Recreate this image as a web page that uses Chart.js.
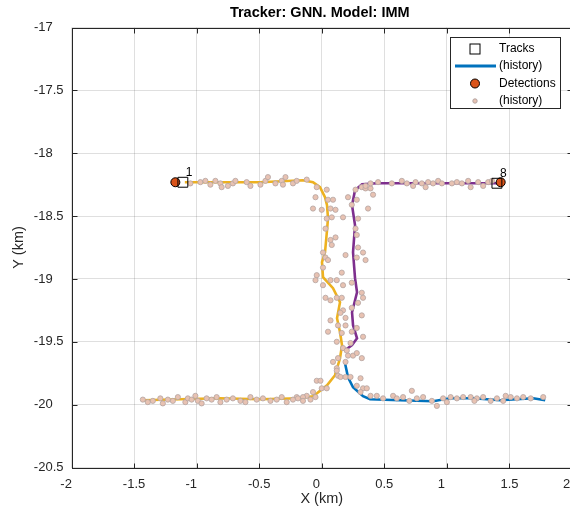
<!DOCTYPE html>
<html><head><meta charset="utf-8">
<script src="https://cdn.jsdelivr.net/npm/chart.js@4.4.0/dist/chart.umd.min.js"></script>
<style>
html,body{margin:0;padding:0;background:#fff;overflow:hidden;width:570px;height:513px;}
#wrap{position:relative;width:580px;height:513px;}
</style></head><body>
<div id="wrap"><canvas id="c" width="580" height="513"></canvas></div>
<script>
const titleText = 'Tracker: GNN. Model: IMM';
const xAxisLabel = 'X (km)';
const yAxisLabel = 'Y (km)';
const xTicks = [-2, -1.5, -1, -0.5, 0, 0.5, 1, 1.5, 2];
const xTickLabels = ['-2', '-1.5', '-1', '-0.5', '0', '0.5', '1', '1.5', '2'];
const yTicks = [-20.5, -20, -19.5, -19, -18.5, -18, -17.5, -17];
const yTickLabels = ['-20.5', '-20', '-19.5', '-19', '-18.5', '-18', '-17.5', '-17'];
const legendLabels = ['Tracks', '(history)', 'Detections', '(history)'];

// Track histories (km)
const track1X = [-1.430,-1.134,-0.814,-0.494,-0.174,-0.070,-0.038,0.042,0.106,0.146,0.162,0.146,0.122,0.146,0.090,0.010,0.002,0.026,0.042,0.050,0.042,0.026,-0.014,-0.070,-0.150,-0.494,-0.814,-1.094];
const track1Y = [-19.965,-19.957,-19.949,-19.957,-19.949,-19.933,-19.909,-19.846,-19.766,-19.631,-19.527,-19.424,-19.313,-19.185,-19.074,-18.986,-18.867,-18.788,-18.613,-18.517,-18.414,-18.350,-18.270,-18.231,-18.215,-18.231,-18.231,-18.231];
const track8X = [0.186,0.242,0.282,0.250,0.242,0.282,0.266,0.250,0.266,0.242,0.266,0.322,0.442,0.810,1.082,1.402,1.426];
const track8Y = [-19.567,-19.527,-19.472,-19.368,-19.265,-19.106,-18.994,-18.788,-18.573,-18.414,-18.294,-18.247,-18.239,-18.239,-18.239,-18.239,-18.239];
const trackOldX = [0.186,0.210,0.250,0.330,0.386,0.626,0.890,1.026,1.210,1.426,1.690,1.786];
const trackOldY = [-19.671,-19.782,-19.862,-19.933,-19.957,-19.965,-19.973,-19.949,-19.949,-19.965,-19.949,-19.965];

// Current tracks and detections
const trackIds = ['1', '8'];
const trackX = [-1.11, 1.40];
const trackY = [-18.231, -18.239];
const detX = [-1.17, 1.43];
const detY = [-18.231, -18.231];

// Detection history (km)
const detHistX = [
 -1.05,-0.97,-0.93,-0.89,-0.85,-0.81,-0.80,-0.75,-0.71,-0.69,-0.60,-0.57,-0.49,-0.45,-0.43,-0.37,-0.32,-0.31,-0.29,-0.23,-0.20,-0.12,
 -0.04,0.04,-0.05,0.05,0.09,-0.07,0.00,0.07,0.11,0.04,0.08,0.03,0.11,0.07,0.08,0.01,0.03,0.05,0.01,-0.04,-0.05,0.01,0.07,0.12,0.16,0.17,0.03,0.07,0.12,0.16,0.17,0.15,0.07,0.13,0.19,0.05,0.16,0.12,0.17,0.21,0.13,0.19,0.12,0.13,-0.04,-0.01,-0.07,-0.12,-0.20,-0.15,0.00,0.04,0.09,0.12,0.15,0.25,
 0.32,0.35,0.39,0.21,0.28,0.24,0.37,0.17,0.29,0.27,0.28,0.29,0.33,0.19,0.28,0.35,0.24,0.32,0.33,0.29,0.24,0.32,0.19,0.28,0.24,0.33,0.23,0.20,0.28,0.32,
 0.27,0.41,0.35,0.39,0.45,0.56,0.64,0.68,0.73,0.75,0.80,0.83,0.85,0.89,0.93,0.96,1.04,1.08,1.12,1.17,1.19,1.25,1.29,1.33,1.36,
 -1.43,-1.39,-1.35,-1.29,-1.27,-1.23,-1.19,-1.15,-1.09,-1.07,-1.04,-1.01,-0.99,-0.96,-0.92,-0.88,-0.84,-0.81,-0.76,-0.71,-0.65,-0.61,-0.57,-0.52,-0.47,-0.41,-0.36,-0.32,-0.28,-0.23,-0.19,-0.15,-0.09,-0.05,
 0.19,0.23,0.31,0.28,0.33,0.36,0.31,0.39,0.44,0.49,0.57,0.60,0.65,0.72,0.76,0.81,0.88,0.92,0.97,1.03,1.08,1.13,1.19,1.24,1.29,1.35,1.40,1.45,1.51,1.56,1.61,1.67,1.77,1.00,1.22,1.47,0.70
];
const detHistY = [
 -18.24,-18.23,-18.22,-18.25,-18.22,-18.24,-18.27,-18.26,-18.24,-18.22,-18.23,-18.26,-18.25,-18.22,-18.19,-18.24,-18.22,-18.25,-18.19,-18.24,-18.22,-18.21,
 -18.27,-18.29,-18.35,-18.37,-18.37,-18.44,-18.45,-18.44,-18.45,-18.52,-18.51,-18.60,-18.67,-18.69,-18.73,-18.79,-18.83,-18.85,-18.91,-18.97,-19.01,-19.05,-19.01,-19.01,-18.95,-19.05,-19.15,-19.17,-19.15,-19.15,-19.25,-19.27,-19.33,-19.37,-19.37,-19.42,-19.43,-19.50,-19.55,-19.61,-19.63,-19.66,-19.71,-19.77,-19.81,-19.81,-19.90,-19.93,-19.94,-19.94,-19.87,-19.87,-19.66,-19.73,-19.78,-19.61,
 -18.27,-18.28,-18.28,-18.35,-18.37,-18.41,-18.44,-18.51,-18.52,-18.60,-18.65,-18.75,-18.79,-18.81,-18.83,-18.85,-19.03,-19.11,-19.15,-19.19,-19.23,-19.29,-19.31,-19.39,-19.42,-19.46,-19.51,-19.57,-19.59,-19.63,
 -18.29,-18.33,-18.26,-18.24,-18.23,-18.24,-18.22,-18.24,-18.26,-18.23,-18.24,-18.27,-18.23,-18.24,-18.22,-18.24,-18.24,-18.23,-18.24,-18.22,-18.27,-18.23,-18.26,-18.23,-18.22,
 -19.96,-19.98,-19.97,-19.95,-19.99,-19.96,-19.97,-19.94,-19.98,-19.95,-19.96,-19.93,-19.97,-19.99,-19.95,-19.96,-19.94,-19.98,-19.96,-19.95,-19.97,-19.98,-19.94,-19.96,-19.95,-19.97,-19.96,-19.94,-19.98,-19.96,-19.95,-19.97,-19.96,-19.94,
 -19.78,-19.78,-19.79,-19.85,-19.87,-19.87,-19.90,-19.93,-19.93,-19.95,-19.93,-19.95,-19.94,-19.89,-19.95,-19.94,-19.97,-20.01,-19.95,-19.94,-19.95,-19.94,-19.94,-19.95,-19.94,-19.97,-19.95,-19.97,-19.94,-19.95,-19.94,-19.95,-19.94,-19.98,-19.97,-19.93,-19.97
];

const COL_Y = '#EDB120', COL_P = '#7E2F8E', COL_B = '#0072BD', COL_DET = '#D95319';
const HIST_FILL = 'rgb(232,194,178)', HIST_EDGE = 'rgb(180,165,162)';
const FONT = "'Liberation Sans', Arial, Helvetica, sans-serif";

const toPts = (xs, ys) => xs.map((v, i) => ({x: v, y: ys[i]}));
// MATLAB pads shorter tick labels with trailing blanks (char matrix)
const padLabel = s => s.indexOf('.') < 0 ? s + '   ' : s;
const tickLabel = (ticks, labels, v) => {
  const i = ticks.findIndex(t => Math.abs(t - v) < 1e-9);
  return i >= 0 ? padLabel(labels[i]) : '';
};

const decor = {
  id: 'decor',
  afterDraw(chart) {
    const {ctx, chartArea: a, scales: {x, y}} = chart;
    ctx.save();
    ctx.strokeStyle = '#262626';
    ctx.lineWidth = 1;
    const L = Math.round(a.left) + 0.5, T = Math.round(a.top) + 0.5;
    const R = Math.round(a.right) + 0.5, B = Math.round(a.bottom) + 0.5;
    ctx.strokeRect(L, T, R - L, B - T);
    ctx.beginPath();
    xTicks.forEach(v => {
      const p = Math.round(x.getPixelForValue(v)) + 0.5;
      ctx.moveTo(p, B); ctx.lineTo(p, B - 5);
      ctx.moveTo(p, T); ctx.lineTo(p, T + 5);
    });
    yTicks.forEach(v => {
      const p = Math.round(y.getPixelForValue(v)) + 0.5;
      ctx.moveTo(L, p); ctx.lineTo(L + 5, p);
      ctx.moveTo(R, p); ctx.lineTo(R - 5, p);
    });
    ctx.stroke();

    // track ids
    ctx.fillStyle = '#000';
    ctx.font = '12px ' + FONT;
    ctx.textAlign = 'left';
    ctx.textBaseline = 'middle';
    trackIds.forEach((id, i) => {
      ctx.fillText(id, x.getPixelForValue(trackX[i]) + 3, y.getPixelForValue(trackY[i]) - 10);
    });

    // title & axis labels
    const cx = (a.left + a.right) / 2;
    ctx.fillStyle = '#000';
    ctx.font = 'bold 14.5px ' + FONT;
    ctx.textAlign = 'center';
    ctx.fillText(titleText, cx - 2, 13);
    ctx.fillStyle = '#262626';
    ctx.font = '14.5px ' + FONT;
    ctx.fillText(xAxisLabel, cx, 499);
    ctx.save();
    ctx.translate(19, (a.top + a.bottom) / 2);
    ctx.rotate(-Math.PI / 2);
    ctx.fillText(yAxisLabel, 0, 0);
    ctx.restore();

    // legend
    const lx = 450.5, ly = 37.5, lw = 110, lh = 71;
    ctx.fillStyle = '#fff';
    ctx.fillRect(lx, ly, lw, lh);
    ctx.strokeStyle = '#262626';
    ctx.lineWidth = 1;
    ctx.strokeRect(lx, ly, lw, lh);
    const rows = [49, 66, 83.5, 101];
    const mx = 475, tx = 499;
    ctx.strokeStyle = '#000';
    ctx.strokeRect(mx - 5, rows[0] - 5, 10, 10);
    ctx.strokeStyle = COL_B;
    ctx.lineWidth = 3;
    ctx.beginPath(); ctx.moveTo(455, rows[1]); ctx.lineTo(496, rows[1]); ctx.stroke();
    ctx.lineWidth = 1;
    ctx.fillStyle = COL_DET; ctx.strokeStyle = '#000';
    ctx.beginPath(); ctx.arc(mx, rows[2], 4.5, 0, Math.PI * 2); ctx.fill(); ctx.stroke();
    ctx.fillStyle = HIST_FILL; ctx.strokeStyle = HIST_EDGE;
    ctx.beginPath(); ctx.arc(mx, rows[3], 2.2, 0, Math.PI * 2); ctx.fill(); ctx.stroke();
    ctx.fillStyle = '#000';
    ctx.font = '12px ' + FONT;
    ctx.textAlign = 'left';
    legendLabels.forEach((t, i) => ctx.fillText(t, tx, rows[i]));
    ctx.restore();
  }
};

new Chart(document.getElementById('c'), {
  type: 'scatter',
  data: {
    datasets: [
      {label: 'Tracks', data: toPts(trackX, trackY), pointStyle: 'rect', pointRadius: 7, pointBorderWidth: 1,
       pointBorderColor: '#000', pointBackgroundColor: 'rgba(0,0,0,0)', order: 0},
      {label: 'Detections', data: toPts(detX, detY), pointRadius: 4.5, pointBorderWidth: 1,
       pointBorderColor: '#000', pointBackgroundColor: COL_DET, order: 1},
      {label: 'Detection history', data: toPts(detHistX, detHistY), pointRadius: 2.6, pointBorderWidth: 0.8,
       pointBorderColor: HIST_EDGE, pointBackgroundColor: HIST_FILL, order: 2},
      {label: 'T1', data: toPts(track1X, track1Y), showLine: true, borderColor: COL_Y, borderWidth: 2.6, pointRadius: 0, order: 3},
      {label: 'T8', data: toPts(track8X, track8Y), showLine: true, borderColor: COL_P, borderWidth: 2.6, pointRadius: 0, order: 3},
      {label: 'Told', data: toPts(trackOldX, trackOldY), showLine: true, borderColor: COL_B, borderWidth: 2.6, pointRadius: 0, order: 3}
    ]
  },
  options: {
    responsive: false,
    devicePixelRatio: 1,
    animation: false,
    layout: {padding: {top: 27.5, right: 8, left: 0, bottom: 0}},
    plugins: {legend: {display: false}, tooltip: {enabled: false}, title: {display: false}},
    scales: {
      x: {
        type: 'linear', min: -2, max: 2,
        afterBuildTicks: s => { s.ticks = xTicks.map(v => ({value: v})); },
        afterFit: s => { s.height = 45.5; s.paddingLeft = 0; s.paddingRight = 0; },
        grid: {color: 'rgba(38,38,38,0.15)', lineWidth: 1, drawTicks: false},
        border: {display: false},
        ticks: {padding: 9, color: '#262626', font: {family: FONT, size: 13},
          callback: v => tickLabel(xTicks, xTickLabels, v)}
      },
      y: {
        type: 'linear', min: -20.5, max: -17,
        afterBuildTicks: s => { s.ticks = yTicks.map(v => ({value: v})); },
        afterFit: s => { s.width = 71.5; s.paddingTop = 0; s.paddingBottom = 0; },
        grid: {color: 'rgba(38,38,38,0.15)', lineWidth: 1, drawTicks: false},
        border: {display: false},
        ticks: {padding: 8, color: '#262626', font: {family: FONT, size: 13},
          callback: v => tickLabel(yTicks, yTickLabels, v)}
      }
    }
  },
  plugins: [decor]
});
</script>
</body></html>
